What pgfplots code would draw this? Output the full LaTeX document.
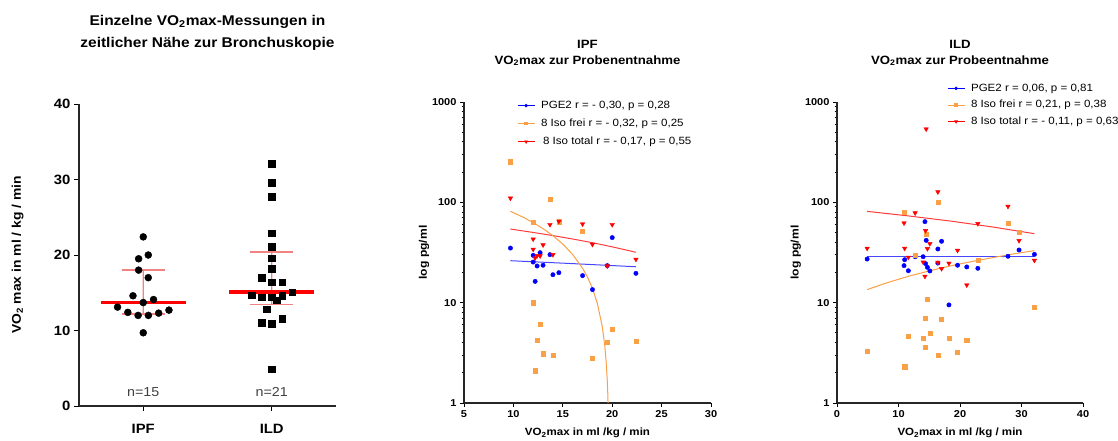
\documentclass[border=0pt]{standalone}
\usepackage{fontspec}
\setmainfont{Liberation Sans}[FakeStretch=1.1]
\usepackage{pgfplots}
\pgfplotsset{compat=1.18}
\usepackage{pgfplotstable}

\definecolor{cblue}{RGB}{0,0,255}
\definecolor{cblueL}{RGB}{70,70,255}
\definecolor{corange}{RGB}{250,160,70}
\definecolor{cred}{RGB}{255,0,0}
\definecolor{credL}{RGB}{255,60,60}
\definecolor{cpink}{RGB}{240,130,130}

% Left panel: VO2max per group (x = group position with jitter)
\pgfplotstableread{
x y
1.000 22.4
0.964 19.5
1.039 20.0
0.964 18.0
1.039 17.0
0.920 14.6
1.000 13.7
1.080 14.1
0.800 13.1
0.880 12.4
0.960 12.0
1.040 12.0
1.120 12.3
1.200 12.7
1.000 9.7
}\ipfvo
\pgfplotstableread{
x y
2.000 32.1
2.000 29.6
2.000 27.7
2.000 22.9
2.000 21.1
2.000 19.6
2.000 18.2
1.920 17.0
2.000 16.4
2.080 16.4
2.158 15.1
1.842 14.7
1.920 14.4
2.000 14.4
2.080 14.6
2.040 14.0
1.960 12.8
1.920 11.0
2.000 10.9
2.080 11.6
2.000 4.9
}\ildvo

% IPF panel
\pgfplotstableread{
x y
9.7 35
12.0 29.6
12.0 25.4
12.2 16.3
12.4 23.2
12.7 31.5
13.0 23.6
13.7 30.1
14.0 19.0
14.6 19.9
17.0 18.6
18.0 13.5
19.5 23.4
20.0 44.5
22.4 19.6
}\ipfpge
\pgfplotstableread{
x y
9.7 254
12.0 63
12.0 10
12.2 2.1
12.4 4.2
12.7 6.1
13.0 3.1
13.7 107
14.0 3.0
14.6 64
17.0 51.4
18.0 2.8
19.5 4.0
20.0 5.4
22.4 4.1
}\ipffrei
\pgfplotstableread{
x y
9.7 110
12.0 43
12.0 34
12.2 27.9
12.4 29.4
12.7 29.2
13.0 37.6
13.7 60
14.0 30.1
14.6 64.7
17.0 60.8
18.0 38.1
19.5 23.2
20.0 60
22.4 27
}\ipftot

% ILD panel
\pgfplotstableread{
x y
4.9 27.2
10.9 23.4
11.0 26.8
11.6 20.8
12.7 28.7
14.0 28.7
14.3 64.2
14.4 24.5
14.5 41.8
14.7 22.5
15.1 20.7
16.4 34.3
16.4 24.8
17.0 40.9
18.2 9.5
19.6 23.6
21.1 22.7
22.9 22.0
27.8 29.0
29.6 33.5
32.1 30.3
}\ildpge
\pgfplotstableread{
x y
4.9 3.3
10.9 79.5
11.0 2.3
11.6 4.6
12.7 29.9
14.0 4.4
14.3 7.0
14.4 3.6
14.5 48.3
14.7 10.8
15.1 5.0
16.4 100.8
16.4 3.0
17.0 6.9
18.2 4.4
19.6 3.2
21.1 4.2
22.9 26.6
27.8 61.8
29.6 50.2
32.1 9.0
}\ildfrei
\pgfplotstableread{
x y
4.9 34.8
10.9 62.2
11.0 34.8
11.6 28.3
12.7 78.3
14.0 25.4
14.3 18.3
14.4 52.2
14.5 538
14.7 34.5
15.1 38.7
16.4 127
16.4 25.2
17.0 21.8
18.2 24.7
19.6 33.2
21.1 15.0
22.9 61.3
27.8 91.2
29.6 41.5
32.1 26.4
}\ildtot

\pgfplotsset{
  every axis/.append style={
    scale only axis, anchor=south west, clip=false,
    tick align=outside,
    axis x line*=bottom, axis y line*=left,
    axis line style={line width=1.1pt, black!85},
    tick style={line width=0.9pt, black},
    /pgf/number format/assume math mode=true,
  },
}

\begin{document}
\begin{tikzpicture}
\useasboundingbox (0,0) rectangle (1118pt,440pt);

% ---------------- Left panel ----------------
\begin{axis}[
  at={(79pt,34pt)}, width=257pt, height=302pt,
  xmin=0.5, xmax=2.5, ymin=0, ymax=40,
  xtick={1,2}, xticklabels={IPF,ILD},
  ytick={0,10,20,30,40},
  major tick length=5pt,
  yticklabel style={font=\bfseries\fontsize{13.5}{14}\selectfont},
  xticklabel style={font=\bfseries\fontsize{13.5}{14}\selectfont, yshift=-10pt},
  ylabel={VO\textsubscript{2} max in ml / kg / min},
  ylabel style={font=\bfseries\fontsize{12.6}{14}\selectfont, at={(axis description cs:-0.239,0.5)}, anchor=center},
  title={Einzelne VO\textsubscript{2}max-Messungen in\\zeitlicher Nähe zur Bronchuskopie},
  title style={align=center, font=\bfseries\fontsize{14.1}{22}\selectfont, at={(axis description cs:0.5,1.215)}, anchor=center},
]
\addplot[only marks, mark=*, mark size=3.5pt, black] table {\ipfvo};
\addplot[only marks, mark=square*, mark size=3.3pt, black] table {\ildvo};
% spread (pink)
\addplot[cpink, line width=1.3pt] coordinates {(0.9999,12.2) (1.0001,18.0)};
\addplot[cpink, line width=1.3pt] coordinates {(0.834,18.0) (1.168,18.0)};
\addplot[cpink, line width=1.3pt] coordinates {(0.834,12.2) (1.168,12.2)};
\addplot[cpink, line width=1.3pt] coordinates {(1.9999,13.4) (2.0001,20.4)};
\addplot[cpink, line width=1.3pt] coordinates {(1.834,20.4) (2.168,20.4)};
\addplot[cpink, line width=1.3pt] coordinates {(1.834,13.4) (2.168,13.4)};
% medians
\addplot[cred, line width=3.6pt] coordinates {(0.671,13.7) (1.332,13.7)};
\addplot[cred, line width=3.6pt] coordinates {(1.671,15.1) (2.332,15.1)};
\node[font=\fontsize{13}{14}\selectfont, text=black!75] at (axis cs:1,1.85) {n=15};
\node[font=\fontsize{13}{14}\selectfont, text=black!75] at (axis cs:2,1.85) {n=21};
\end{axis}

% ---------------- IPF panel ----------------
\begin{axis}[
  at={(464pt,37pt)}, width=247pt, height=301pt,
  ymode=log, ymin=1, ymax=1000,
  ytick={1,10,100,1000}, yticklabels={1,10,100,1000},
  major tick length=4pt, minor tick length=2.5pt,
  ticklabel style={font=\bfseries\fontsize{10}{12}\selectfont},
  xmin=5, xmax=30, xtick={5,10,15,20,25,30},
  xlabel={VO\textsubscript{2}max in ml /kg / min},
  xlabel style={font=\bfseries\fontsize{10.5}{12}\selectfont, at={(axis description cs:0.5,-0.10)}, anchor=center},
  ylabel={log pg/ml},
  ylabel style={font=\bfseries\fontsize{11}{12}\selectfont, at={(axis description cs:-0.162,0.5)}, anchor=center},
  title={IPF\\VO\textsubscript{2}max zur Probenentnahme},
  title style={font=\bfseries\fontsize{12}{16}\selectfont, align=center, at={(axis description cs:0.5,1.143)}, anchor=center},
  legend style={draw=none, fill=none, font=\fontsize{10.5}{12}\selectfont, inner sep=0pt, anchor=north west, at={(axis description cs:0.2146,1.01)}, row sep=5pt, /tikz/every odd column/.append style={column sep=4pt}},
  legend cell align=left,
]
\addlegendimage{cblue, line width=0.8pt, mark=*, mark size=1.3pt}
\addlegendentry{PGE2 r = - 0,30, p = 0,28}
\addlegendimage{corange, line width=0.8pt, mark=square*, mark size=1.3pt}
\addlegendentry{8 Iso frei r = - 0,32, p = 0,25}
\addlegendimage{cred, line width=0.8pt, mark=triangle*, mark size=1.5pt, mark options={rotate=180}}
\addlegendentry{\hspace{2pt}8 Iso total r = - 0,17, p = 0,55}
% fit lines
\addplot[cblueL, line width=1pt, no marks, forget plot] coordinates {(9.7,26.2) (16,24.5) (22.4,22.8)};
\addplot[credL, line width=1pt, no marks, forget plot] coordinates {(9.7,54.2) (12,50.1) (14,46.6) (16,43.1) (18,39.6) (20,36.0) (22.4,31.8)};
\addplot[corange, line width=1pt, no marks, forget plot] coordinates {(9.7,81.5) (11,70.95) (12,62.8) (13,54.65) (14,46.5) (15,38.35) (16,30.2) (17,22.05) (17.5,17.97) (18,13.9) (18.5,9.82) (19,5.75) (19.25,3.71) (19.4,2.49) (19.5,1.67) (19.55,1.26) (19.58,1.0)};
% points
\addplot[only marks, mark=*, mark size=2.2pt, cblue, forget plot] table {\ipfpge};
\addplot[only marks, mark=square*, mark size=2.1pt, corange, forget plot] table {\ipffrei};
\addplot[only marks, mark=triangle*, mark size=2.6pt, mark options={rotate=180}, cred, forget plot] table {\ipftot};
\end{axis}

% ---------------- ILD panel ----------------
\begin{axis}[
  at={(837pt,37pt)}, width=246pt, height=301pt,
  ymode=log, ymin=1, ymax=1000,
  ytick={1,10,100,1000}, yticklabels={1,10,100,1000},
  major tick length=4pt, minor tick length=2.5pt,
  ticklabel style={font=\bfseries\fontsize{10}{12}\selectfont},
  xmin=0, xmax=40, xtick={0,10,20,30,40},
  xlabel={VO\textsubscript{2}max in ml /kg / min},
  xlabel style={font=\bfseries\fontsize{10.5}{12}\selectfont, at={(axis description cs:0.5,-0.10)}, anchor=center},
  ylabel={log pg/ml},
  ylabel style={font=\bfseries\fontsize{11}{12}\selectfont, at={(axis description cs:-0.167,0.5)}, anchor=center},
  title={ILD\\VO\textsubscript{2}max zur Probeentnahme},
  title style={font=\bfseries\fontsize{12}{16}\selectfont, align=center, at={(axis description cs:0.5,1.143)}, anchor=center},
  legend style={draw=none, fill=none, font=\fontsize{10.5}{12}\selectfont, inner sep=0pt, anchor=north west, at={(axis description cs:0.447,1.067)}, row sep=3.5pt, /tikz/every odd column/.append style={column sep=4pt}},
  legend cell align=left,
]
\addlegendimage{cblue, line width=0.8pt, mark=*, mark size=1.3pt}
\addlegendentry{PGE2 r = 0,06, p = 0,81}
\addlegendimage{corange, line width=0.8pt, mark=square*, mark size=1.3pt}
\addlegendentry{8 Iso frei r = 0,21, p = 0,38}
\addlegendimage{cred, line width=0.8pt, mark=triangle*, mark size=1.5pt, mark options={rotate=180}}
\addlegendentry{8 Iso total r = - 0,11, p = 0,63}
\addplot[cblueL, line width=1pt, no marks, forget plot] coordinates {(4.9,29.0) (32.1,29.0)};
\addplot[credL, line width=1pt, no marks, forget plot] coordinates {(4.9,81.3) (11.7,73.1) (18.5,65.0) (25.3,56.8) (32.1,48.7)};
\addplot[corange, line width=1pt, no marks, forget plot] coordinates {(4.9,13.5) (8.3,15.9) (11.7,18.4) (15.1,20.8) (18.5,23.3) (21.9,25.7) (25.3,28.1) (28.7,30.6) (32.1,33.0)};
\addplot[only marks, mark=*, mark size=2.2pt, cblue, forget plot] table {\ildpge};
\addplot[only marks, mark=square*, mark size=2.1pt, corange, forget plot] table {\ildfrei};
\addplot[only marks, mark=triangle*, mark size=2.6pt, mark options={rotate=180}, cred, forget plot] table {\ildtot};
\end{axis}
\end{tikzpicture}
\end{document}
